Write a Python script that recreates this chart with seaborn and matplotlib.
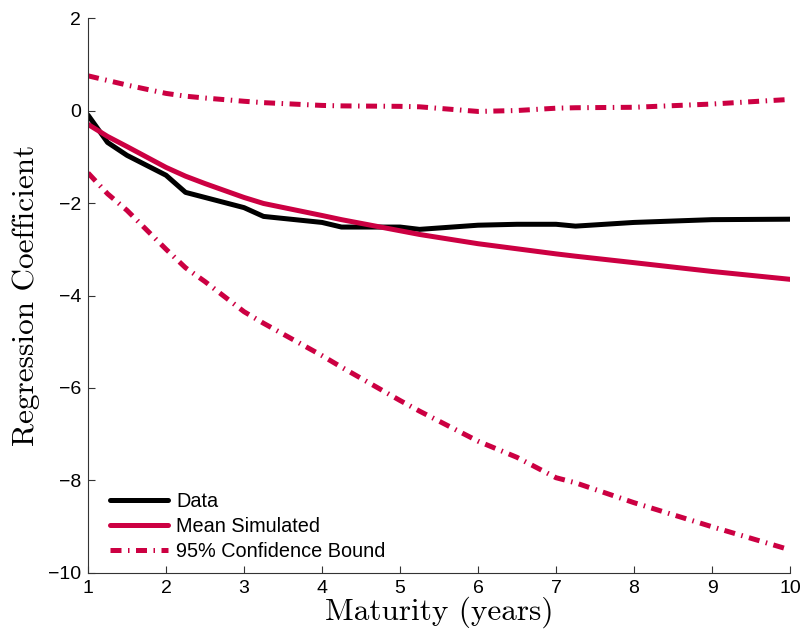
import matplotlib
matplotlib.use("Agg")
import matplotlib.pyplot as plt
import seaborn as sns
import pandas as pd

# Maturities (years)
maturity = [1, 1.25, 1.5, 2, 2.25, 2.5, 3, 3.25, 4, 4.25, 5, 5.25, 6, 6.5, 7, 7.25, 8, 9, 10]

# Regression coefficients
data_coef = [-0.10, -0.69, -0.97, -1.40, -1.77, -1.88, -2.10, -2.29, -2.42, -2.52,
             -2.52, -2.57, -2.48, -2.46, -2.46, -2.50, -2.42, -2.36, -2.35]
mean_sim = [-0.30, -0.56, -0.78, -1.23, -1.42, -1.58, -1.88, -2.01, -2.27, -2.36,
            -2.60, -2.68, -2.88, -2.99, -3.10, -3.15, -3.29, -3.48, -3.65]
upper_bound = [0.75, 0.65, 0.55, 0.37, 0.31, 0.27, 0.20, 0.17, 0.11, 0.10,
               0.09, 0.08, -0.02, 0.00, 0.05, 0.06, 0.07, 0.14, 0.24]
lower_bound = [-1.35, -1.80, -2.16, -3.00, -3.40, -3.70, -4.35, -4.60, -5.30, -5.55,
               -6.27, -6.50, -7.15, -7.50, -7.94, -8.05, -8.48, -9.00, -9.50]

red = "#CC0042"

sns.set_style("ticks")
plt.rcParams["font.family"] = ["Liberation Sans", "DejaVu Sans"]
plt.rcParams["xtick.direction"] = "in"
plt.rcParams["ytick.direction"] = "in"
plt.rcParams["text.color"] = "black"
plt.rcParams["axes.labelcolor"] = "black"
plt.rcParams["xtick.labelcolor"] = "black"
plt.rcParams["ytick.labelcolor"] = "black"

df = pd.DataFrame({"maturity": maturity, "data": data_coef, "mean": mean_sim,
                   "upper": upper_bound, "lower": lower_bound})

fig = plt.figure(figsize=(8.04, 6.30), dpi=100)
ax = fig.add_axes([0.1095, 0.0905, 0.8731, 0.8809])

dashdot = (2.2, 1.3, 0.3, 1.3)
sns.lineplot(data=df, x="maturity", y="data", ax=ax, color="black", lw=3.6, label="Data")
sns.lineplot(data=df, x="maturity", y="mean", ax=ax, color=red, lw=3.6, label="Mean Simulated")
sns.lineplot(data=df, x="maturity", y="upper", ax=ax, color=red, lw=3.6,
             dashes=False, label="95% Confidence Bound")
sns.lineplot(data=df, x="maturity", y="lower", ax=ax, color=red, lw=3.6, dashes=False)
for ln in ax.lines[2:4]:
    ln.set_dashes(dashdot)
    ln.set_dash_capstyle("butt")

ax.set_xlim(1, 10)
ax.set_ylim(-10, 2)
ax.set_xticks(range(1, 11))
ax.set_yticks(range(-10, 3, 2))
ax.tick_params(labelsize=14, length=5, width=0.8, color="#333333", pad=5)
sns.despine(ax=ax)
for s in ("left", "bottom"):
    ax.spines[s].set_linewidth(0.8)
    ax.spines[s].set_color("#333333")

ax.set_xlabel("Maturity (years)", fontfamily="cmr10", fontsize=22.5, labelpad=0)
ax.set_ylabel("Regression Coefficient", fontfamily="cmr10", fontsize=22.5, labelpad=6)

leg = ax.legend(loc="lower left", frameon=False, fontsize=14.3, handlelength=2.9,
                borderaxespad=0.2, labelspacing=0.3, handletextpad=0.4,
                bbox_to_anchor=(0.015, 0.0))
for h in leg.get_lines():
    h.set_linewidth(3.6)
leg.get_lines()[2].set_dashes(dashdot)

fig.savefig("out.png", dpi=100)
